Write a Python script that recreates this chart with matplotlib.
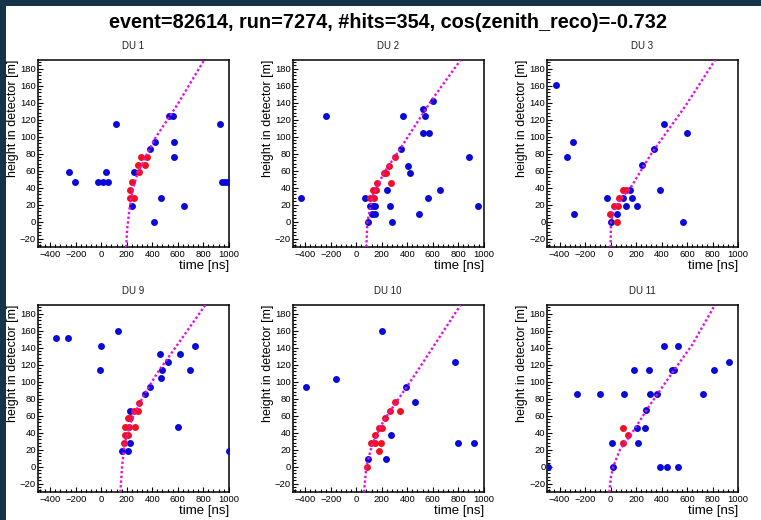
import matplotlib
matplotlib.use("Agg")
import matplotlib.pyplot as plt
from matplotlib.ticker import MultipleLocator
from matplotlib.patches import Rectangle

plt.rcParams['font.family'] = ['Liberation Sans', 'DejaVu Sans']

suptitle_text = "event=82614, run=7274, #hits=354, cos(zenith_reco)=-0.732"
du_names = ["DU 1", "DU 2", "DU 3", "DU 9", "DU 10", "DU 11"]

# ---- DU 1 ----
du1_blue_t = [115, -250, -205, -25, 10, 50, 40, 240, 255, 385, 425, 535, 560, 573, 568, 470, 417, 645, 930, 945, 970, 990]
du1_blue_h = [115, 58, 47, 47, 47, 47, 58, 18, 58, 85, 94, 124, 124, 94, 76, 28, 0, 18, 115, 47, 47, 47]
du1_red_t = [227, 253, 229, 242, 294, 286, 312, 339, 357]
du1_red_h = [28, 28, 37, 47, 58, 67, 76, 67, 76]
du1_fit_t = [195, 203, 221, 247, 286, 339, 417, 599, 807]
du1_fit_h = [-30, -9, 14.5, 38, 57.6, 73.3, 96.8, 138, 190]

# ---- DU 2 ----
du2_blue_t = [-430, -237, 68, 92, 105, 130, 150, 126, 145, 240, 266, 284, 350, 363, 403, 424, 495, 521, 539, 526, 574, 560, 605, 658, 884, 955]
du2_blue_h = [28, 124, 28, 0, 18, 18, 18, 9, 9, 37, 18, 0, 85, 124, 66, 57, 9, 133, 124, 104, 104, 28, 142, 37, 76, 18]
du2_red_t = [108, 139, 132, 153, 166, 218, 232, 258, 271, 303]
du2_red_h = [28, 28, 37, 37, 46, 57, 57, 66, 46, 76]
du2_fit_t = [79, 87, 126, 218, 350, 587, 818]
du2_fit_h = [-30, -1, 30, 57.6, 87, 142, 190]

# ---- DU 3 ----
du3_blue_t = [-425, -340, -295, -287, -26, 0, 53, 100, 118, 153, 171, 210, 245, 337, 416, 387, 600, 568]
du3_blue_h = [161, 76, 94, 9, 28, 0, 9, 28, 18, 37, 28, 18, 67, 85, 115, 37, 104, 0]
du3_red_t = [-5, 26, 61, 53, 68, 100, 118]
du3_red_h = [9, 18, 18, 0, 28, 37, 37]
du3_fit_t = [0, 3, 21, 74, 166, 324, 587, 820]
du3_fit_h = [-30, -1, 12.5, 26, 42, 81, 136, 190]

# ---- DU 9 ----
du9_blue_t = [-355, -258, 0, -8, 129, 461, 479, 466, 526, 379, 339, 618, 734, 697, 605, 998, 163, 211, 229, 229]
du9_blue_h = [151, 151, 142, 114, 160, 132, 114, 104, 123, 94, 85, 132, 142, 114, 47, 18, 18, 18, 28, 66]
du9_red_t = [182, 189, 208, 189, 216, 268, 229, 208, 255, 287, 295]
du9_red_h = [28, 37, 37, 47, 47, 47, 57, 57, 66, 66, 75]
du9_fit_t = [150, 163, 182, 242, 334, 439, 624, 816]
du9_fit_h = [-30, 0, 27, 57, 84, 110, 149, 190]

# ---- DU 10 ----
du10_blue_t = [-395, -155, 200, 389, 92, 232, 271, 461, 776, 797, 921]
du10_blue_h = [94, 103, 160, 94, 9, 9, 37, 76, 123, 28, 28]
du10_red_t = [82, 118, 147, 147, 179, 192, 179, 200, 226, 266, 303, 345]
du10_red_h = [0, 28, 28, 37, 18, 28, 46, 46, 57, 66, 76, 66]
du10_fit_t = [61, 79, 126, 218, 324, 482, 639, 818]
du10_fit_h = [-30, 0, 27, 55, 78, 113, 149, 190]

# ---- DU 11 ----
du11_blue_t = [-492, -261, -79, 108, 8, 16, 184, 205, 213, 271, 276, 305, 311, 368, 418, 529, 389, 439, 526, 482, 500, 724, 811, 929]
du11_blue_h = [0, 85, 85, 85, 28, 0, 114, 46, 28, 46, 67, 114, 85, 85, 142, 142, 0, 0, 0, 114, 114, 85, 114, 123]
du11_red_t = [100, 139, 100]
du11_red_h = [46, 37, 28]
du11_fit_t = [-10, 3, 21, 74, 166, 297, 482, 639, 818]
du11_fit_h = [-30, -12, 0, 20, 39, 70, 110, 143, 190]

panels = [
    (du1_blue_t, du1_blue_h, du1_red_t, du1_red_h, du1_fit_t, du1_fit_h),
    (du2_blue_t, du2_blue_h, du2_red_t, du2_red_h, du2_fit_t, du2_fit_h),
    (du3_blue_t, du3_blue_h, du3_red_t, du3_red_h, du3_fit_t, du3_fit_h),
    (du9_blue_t, du9_blue_h, du9_red_t, du9_red_h, du9_fit_t, du9_fit_h),
    (du10_blue_t, du10_blue_h, du10_red_t, du10_red_h, du10_fit_t, du10_fit_h),
    (du11_blue_t, du11_blue_h, du11_red_t, du11_red_h, du11_fit_t, du11_fit_h),
]

W, H = 761, 520
fig = plt.figure(figsize=(W / 100, H / 100), dpi=100, facecolor='#15344a')
# white canvas inside dark frame
fig.patches.append(Rectangle((6 / W, 0), 1 - 6 / W, 1 - 6 / H, transform=fig.transFigure,
                             facecolor='white', edgecolor='none', zorder=-10))

col_left = [37.5, 292.5, 546.8]
row_top = [60, 305]
ax_w, ax_h = 191.3, 187.2

fig.suptitle(suptitle_text, x=388 / W, y=1 - 23 / H, va='center', fontsize=14.3, fontweight='bold')

for i, (bt, bh, rt, rh, ft, fh) in enumerate(panels):
    r, c = divmod(i, 3)
    left = col_left[c] / W
    bottom = 1 - (row_top[r] + ax_h) / H
    ax = fig.add_axes([left, bottom, ax_w / W, ax_h / H])
    ax.set_zorder(1)
    ax.plot(bt, bh, 'o', color='#0a0ad8', ms=5, mec='none', zorder=3)
    ax.plot(rt, rh, 'o', color='#f01020', ms=5, mec='none', zorder=4)
    ax.plot(ft, fh, color='#e010e0', lw=1.7, linestyle=(0, (1, 1)), zorder=5)
    ax.set_xlim(-500, 1000)
    ax.set_ylim(-30, 190)
    ax.set_xticks(range(-400, 1001, 200))
    ax.set_yticks(range(-20, 181, 20))
    ax.xaxis.set_minor_locator(MultipleLocator(40))
    ax.yaxis.set_minor_locator(MultipleLocator(4))
    ax.tick_params(which='both', direction='in', top=False, right=False, width=0.8, colors='black')
    ax.tick_params(which='major', length=3.8, labelsize=6.8)
    ax.tick_params(which='minor', length=1.9)
    ax.tick_params(axis='x', which='major', pad=2)
    ax.tick_params(axis='y', which='major', pad=1)
    for sp in ax.spines.values():
        sp.set_linewidth(1.1)
    ax.set_title(du_names[i], fontsize=7, color='#222222', pad=8)
    ax.set_xlabel("time [ns]", fontsize=9.5, loc='right')
    ax.xaxis.set_label_coords(1.0, -0.066)
    ax.set_ylabel("height in detector [m]", fontsize=9, loc='top')
    ax.yaxis.set_label_coords(-0.097, 1.0)

fig.savefig("out.png", dpi=100, facecolor=fig.get_facecolor())
